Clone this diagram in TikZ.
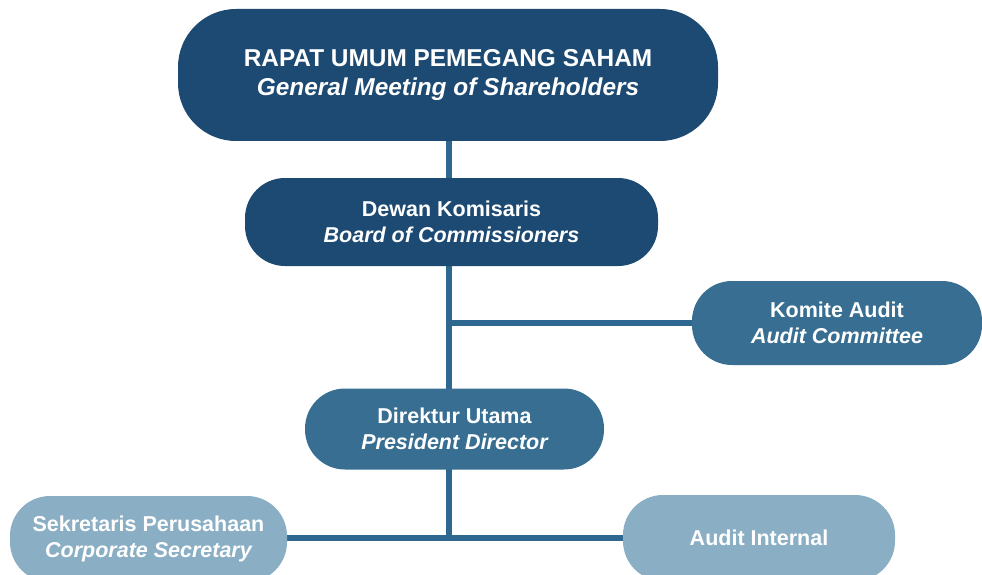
\documentclass[tikz,border=0pt]{standalone}
\usepackage{fontspec}
\setmainfont{Liberation Sans}
\usetikzlibrary{positioning,backgrounds}
\definecolor{navy}{HTML}{1D4A72}
\definecolor{midblue}{HTML}{376E92}
\definecolor{paleblue}{HTML}{8AAEC4}
\definecolor{linkblue}{HTML}{2E6890}
\begin{document}
\begin{tikzpicture}
[x=1pt, y=-1pt,
topnode/.style={rectangle, rounded corners=58pt, fill=navy, text=white, align=center, font=\fontsize{24.4}{29.5}\selectfont\bfseries},
orgnode/.style={rectangle, rounded corners=40pt, text=white, align=center, font=\fontsize{21.5}{26}\selectfont\bfseries},
link/.style={linkblue, line width=5.5pt},
]
\useasboundingbox (0,0) rectangle (982,575);
% rups
\node[topnode, minimum width=540pt, minimum height=132pt](rups) at (448, 75) {RAPAT UMUM PEMEGANG SAHAM\\ \itshape General Meeting of Shareholders};
% commissioners
\node[orgnode, fill=navy, minimum width=413pt, minimum height=88pt](dekom) at (451.5, 222) {Dewan Komisaris\\ \itshape Board of Commissioners};
\node[orgnode, fill=midblue, minimum width=290pt, minimum height=84pt](komite) at (837, 323) {Komite Audit\\ \itshape Audit Committee};
% directors
\node[orgnode, fill=midblue, minimum width=299pt, minimum height=81pt](dirut) at (454.5, 429) {Direktur Utama\\ \itshape President Director};
\node[orgnode, fill=paleblue, minimum width=277pt, minimum height=86pt](sekper) at (148.5, 539) {Sekretaris Perusahaan\\ \itshape Corporate Secretary};
\node[orgnode, fill=paleblue, minimum width=272pt, minimum height=86pt](audit) at (759, 538) {Audit Internal};
% lines
\coordinate (j1) at (449, 323);
\coordinate (j2) at (449, 538);
\begin{pgfonlayer}{background}
\draw[link] (rups.south -| j1) -- (j2);
\draw[link] (j1) -- (komite.west |- j1);
\draw[link] (sekper.east |- j2) -- (audit.west |- j2);
\end{pgfonlayer}
\end{tikzpicture}
\end{document}
